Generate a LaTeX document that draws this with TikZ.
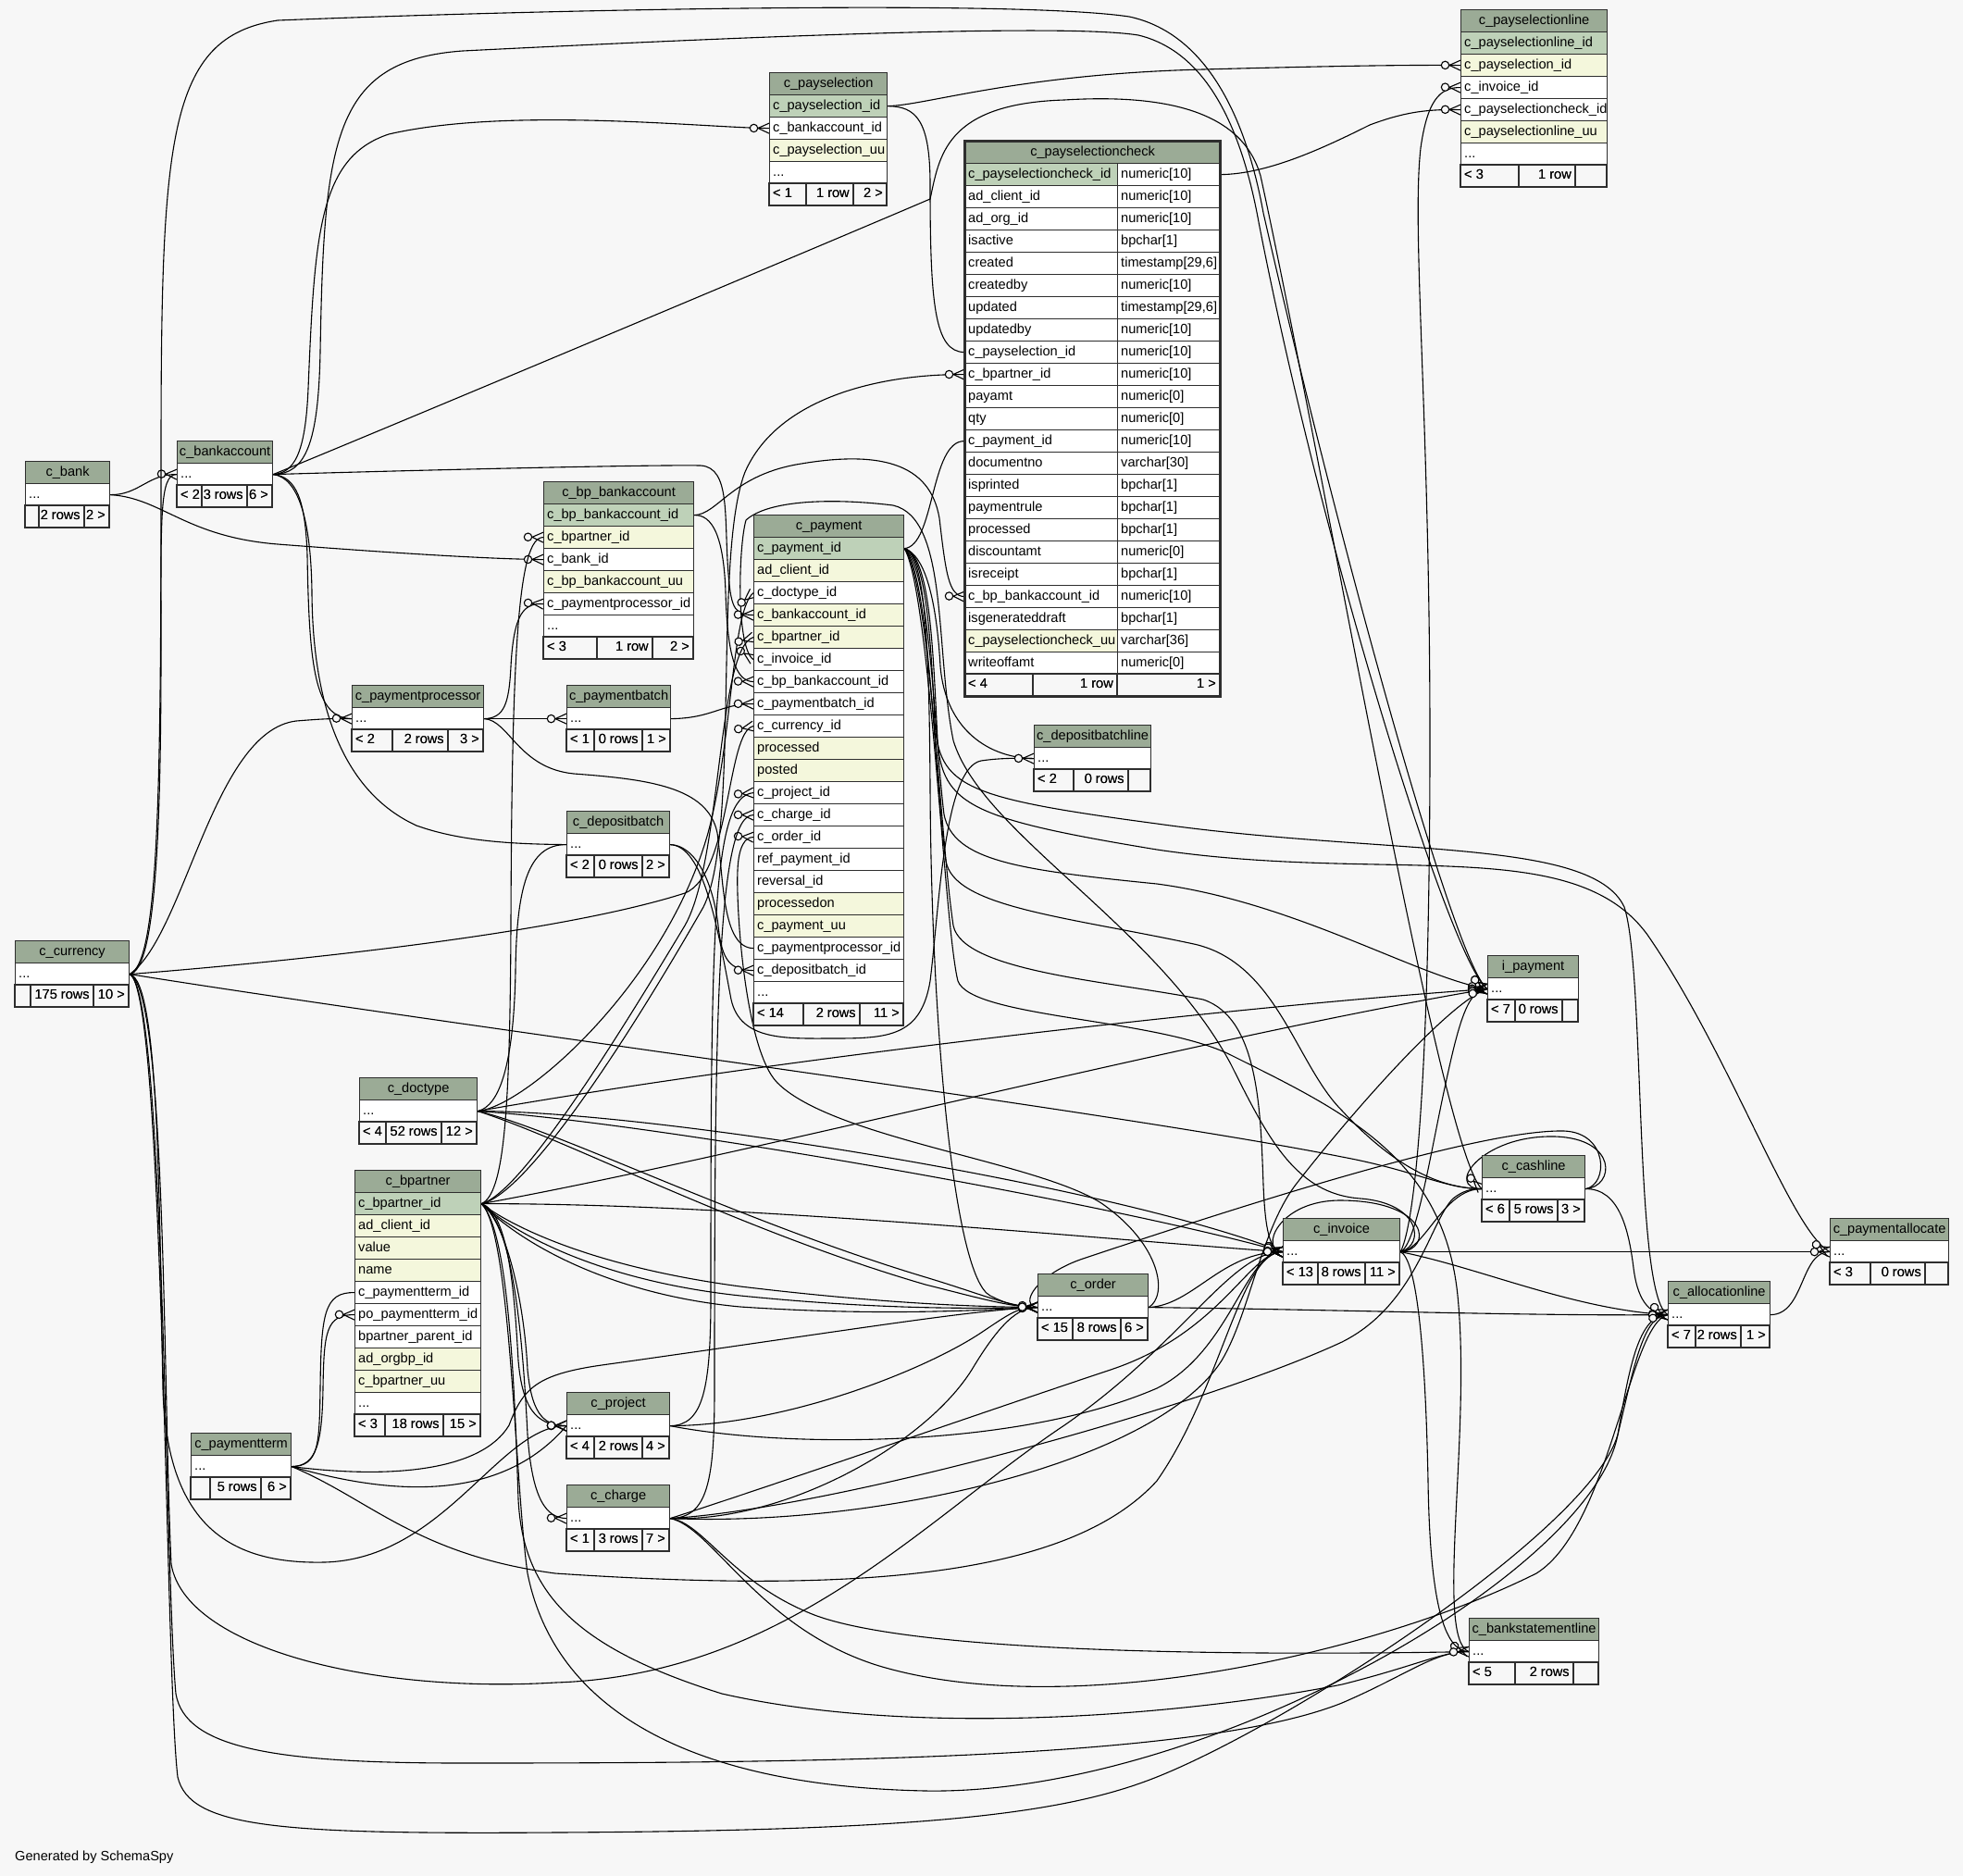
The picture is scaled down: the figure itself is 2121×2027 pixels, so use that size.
\documentclass[tikz,border=0pt]{standalone}
\usepackage{fontspec}
\setmainfont{Liberation Sans}
\usetikzlibrary{decorations.markings}
\definecolor{bg}{HTML}{F7F7F7}
\definecolor{hdr}{HTML}{9BAB96}
\definecolor{pk}{HTML}{BED1B8}
\definecolor{idx}{HTML}{F4F7DC}
\definecolor{bd}{HTML}{2E2E2E}
\tikzset{
  every node/.style={font=\fontsize{14.6pt}{17pt}\selectfont},
  cell/.style={draw=bd, line width=1.2pt, inner sep=0pt, minimum height=24pt, anchor=north west},
  txt/.style={inner sep=0pt, text height=10.5pt, text depth=3pt},
  fk/.style={draw=black, line width=1.1pt, postaction={decorate,decoration={markings,mark=at position 1 with {\draw[line width=1.1pt] (-12,0) -- (0,5.5) (-12,0) -- (0,-5.5); \draw[line width=1.1pt,fill=bg] (-16.5,0) circle (4.2);}}}},
}
\newcommand\thd[5]{\node[cell,fill=hdr,minimum width=#4] (#1) at (#2,#3) {}; \node[txt] at (#1.center) {#5};}
\newcommand\trw[6]{\node[cell,fill=#5,minimum width=#4] (#1) at (#2,#3) {}; \node[txt,anchor=west] at ([xshift=4pt]#1.west) {#6};}
\newcommand\tft[8]{\draw[draw=bd,line width=1.2pt] (#1,#5) rectangle (#2,#5+24) (#2,#5) rectangle (#3,#5+24) (#3,#5) rectangle (#4,#5+24); \node[txt,anchor=west] at (#1+4,#5+12) {#6}; \node[txt,anchor=east] at (#3-4,#5+12) {#7}; \node[txt,anchor=east] at (#4-4,#5+12) {#8};}
\newcommand\prw[5]{\node[cell,fill=#3,minimum width=165] (#1) at (1042,#2) {}; \node[txt,anchor=west] at ([xshift=4pt]#1.west) {#4}; \node[cell,fill=white,minimum width=111] (#1t) at (1207,#2) {}; \node[txt,anchor=west] at ([xshift=4pt]#1t.west) {#5};}
\begin{document}
\begin{tikzpicture}[x=1pt,y=-1pt]
\fill[bg] (0,0) rectangle (2121,2027);
\useasboundingbox (0,0) rectangle (2121,2027);
% ---------- invisible port placeholders (tables drawn later overwrite) ----------
% ---------- tables (nodes first, so edges can reference; drawn again on top) ----------
\begin{scope}
% c_payselectionline
\thd{psl-h}{1578}{10}{158}{c\_payselectionline}
\trw{psl-pk}{1578}{34}{158}{pk}{c\_payselectionline\_id}
\trw{psl-ps}{1578}{58}{158}{idx}{c\_payselection\_id}
\trw{psl-inv}{1578}{82}{158}{white}{c\_invoice\_id}
\trw{psl-psc}{1578}{106}{158}{white}{c\_payselectioncheck\_id}
\trw{psl-uu}{1578}{130}{158}{idx}{c\_payselectionline\_uu}
\trw{psl-m}{1578}{154}{158}{white}{...}
\tft{1578}{1641}{1702}{1736}{178}{< 3}{1 row}{}
% c_payselection
\thd{ps-h}{831}{78}{127}{c\_payselection}
\trw{ps-pk}{831}{102}{127}{pk}{c\_payselection\_id}
\trw{ps-bacct}{831}{126}{127}{white}{c\_bankaccount\_id}
\trw{ps-uu}{831}{150}{127}{idx}{c\_payselection\_uu}
\trw{ps-m}{831}{174}{127}{white}{...}
\tft{831}{871}{922}{958}{198}{< 1}{1 row}{2 >}
% c_payselectioncheck
\thd{psc-h}{1042}{152}{276}{c\_payselectioncheck}
\prw{psc-pk}{176}{pk}{c\_payselectioncheck\_id}{numeric[10]}
\prw{psc-r1}{200}{white}{ad\_client\_id}{numeric[10]}
\prw{psc-r2}{224}{white}{ad\_org\_id}{numeric[10]}
\prw{psc-r3}{248}{white}{isactive}{bpchar[1]}
\prw{psc-r4}{272}{white}{created}{timestamp[29,6]}
\prw{psc-r5}{296}{white}{createdby}{numeric[10]}
\prw{psc-r6}{320}{white}{updated}{timestamp[29,6]}
\prw{psc-r7}{344}{white}{updatedby}{numeric[10]}
\prw{psc-ps}{368}{white}{c\_payselection\_id}{numeric[10]}
\prw{psc-bp}{392}{white}{c\_bpartner\_id}{numeric[10]}
\prw{psc-r10}{416}{white}{payamt}{numeric[0]}
\prw{psc-r11}{440}{white}{qty}{numeric[0]}
\prw{psc-pay}{464}{white}{c\_payment\_id}{numeric[10]}
\prw{psc-r13}{488}{white}{documentno}{varchar[30]}
\prw{psc-r14}{512}{white}{isprinted}{bpchar[1]}
\prw{psc-r15}{536}{white}{paymentrule}{bpchar[1]}
\prw{psc-r16}{560}{white}{processed}{bpchar[1]}
\prw{psc-r17}{584}{white}{discountamt}{numeric[0]}
\prw{psc-r18}{608}{white}{isreceipt}{bpchar[1]}
\prw{psc-bpba}{632}{white}{c\_bp\_bankaccount\_id}{numeric[10]}
\prw{psc-r20}{656}{white}{isgenerateddraft}{bpchar[1]}
\prw{psc-uu}{680}{idx}{c\_payselectioncheck\_uu}{varchar[36]}
\prw{psc-r22}{704}{white}{writeoffamt}{numeric[0]}
\tft{1042}{1116}{1207}{1318}{728}{< 4}{1 row}{1 >}
\draw[draw=bd,line width=3pt] (1042,152) rectangle (1318,752);
% c_payment
\thd{pay-h}{814}{556}{162}{c\_payment}
\trw{pay-pk}{814}{580}{162}{pk}{c\_payment\_id}
\trw{pay-r1}{814}{604}{162}{idx}{ad\_client\_id}
\trw{pay-doc}{814}{628}{162}{white}{c\_doctype\_id}
\trw{pay-bacct}{814}{652}{162}{idx}{c\_bankaccount\_id}
\trw{pay-bp}{814}{676}{162}{idx}{c\_bpartner\_id}
\trw{pay-inv}{814}{700}{162}{white}{c\_invoice\_id}
\trw{pay-bpba}{814}{724}{162}{white}{c\_bp\_bankaccount\_id}
\trw{pay-pb}{814}{748}{162}{white}{c\_paymentbatch\_id}
\trw{pay-cur}{814}{772}{162}{white}{c\_currency\_id}
\trw{pay-r9}{814}{796}{162}{idx}{processed}
\trw{pay-r10}{814}{820}{162}{idx}{posted}
\trw{pay-proj}{814}{844}{162}{white}{c\_project\_id}
\trw{pay-charge}{814}{868}{162}{white}{c\_charge\_id}
\trw{pay-order}{814}{892}{162}{white}{c\_order\_id}
\trw{pay-r14}{814}{916}{162}{white}{ref\_payment\_id}
\trw{pay-r15}{814}{940}{162}{white}{reversal\_id}
\trw{pay-r16}{814}{964}{162}{idx}{processedon}
\trw{pay-r17}{814}{988}{162}{idx}{c\_payment\_uu}
\trw{pay-pp}{814}{1012}{162}{white}{c\_paymentprocessor\_id}
\trw{pay-db}{814}{1036}{162}{white}{c\_depositbatch\_id}
\trw{pay-m}{814}{1060}{162}{white}{...}
\tft{814}{868}{929}{976}{1084}{< 14}{2 rows}{11 >}
% c_bp_bankaccount
\thd{bpba-h}{587}{520}{162}{c\_bp\_bankaccount}
\trw{bpba-pk}{587}{544}{162}{pk}{c\_bp\_bankaccount\_id}
\trw{bpba-bp}{587}{568}{162}{idx}{c\_bpartner\_id}
\trw{bpba-bank}{587}{592}{162}{white}{c\_bank\_id}
\trw{bpba-uu}{587}{616}{162}{idx}{c\_bp\_bankaccount\_uu}
\trw{bpba-pp}{587}{640}{162}{white}{c\_paymentprocessor\_id}
\trw{bpba-m}{587}{664}{162}{white}{...}
\tft{587}{645}{705}{749}{688}{< 3}{1 row}{2 >}
% c_bank
\thd{bank-h}{27}{498}{91}{c\_bank}
\trw{bank-r}{27}{522}{91}{white}{...}
\tft{27}{42}{91}{118}{546}{}{2 rows}{2 >}
% c_bankaccount
\thd{bacct-h}{191}{476}{103}{c\_bankaccount}
\trw{bacct-r}{191}{500}{103}{white}{...}
\tft{191}{218}{267}{294}{524}{< 2}{3 rows}{6 >}
% c_currency
\thd{cur-h}{16}{1016}{123}{c\_currency}
\trw{cur-r}{16}{1040}{123}{white}{...}
\tft{16}{33}{101}{139}{1064}{}{175 rows}{10 >}
% c_paymentprocessor
\thd{pproc-h}{380}{740}{142}{c\_paymentprocessor}
\trw{pproc-r}{380}{764}{142}{white}{...}
\tft{380}{424}{484}{522}{788}{< 2}{2 rows}{3 >}
% c_paymentbatch
\thd{pbatch-h}{612}{740}{112}{c\_paymentbatch}
\trw{pbatch-r}{612}{764}{112}{white}{...}
\tft{612}{642}{694}{724}{788}{< 1}{0 rows}{1 >}
% c_depositbatch
\thd{dbatch-h}{612}{876}{111}{c\_depositbatch}
\trw{dbatch-r}{612}{900}{111}{white}{...}
\tft{612}{642}{694}{723}{924}{< 2}{0 rows}{2 >}
% c_depositbatchline
\thd{dbl-h}{1117}{783}{126}{c\_depositbatchline}
\trw{dbl-r}{1117}{807}{126}{white}{...}
\tft{1117}{1160}{1219}{1243}{831}{< 2}{0 rows}{}
% c_doctype
\thd{doctype-h}{388}{1164}{127}{c\_doctype}
\trw{doctype-r}{388}{1188}{127}{white}{...}
\tft{388}{417}{477}{515}{1212}{< 4}{52 rows}{12 >}
% c_bpartner
\thd{bp-h}{383}{1264}{136}{c\_bpartner}
\trw{bp-pk}{383}{1288}{136}{pk}{c\_bpartner\_id}
\trw{bp-r1}{383}{1312}{136}{idx}{ad\_client\_id}
\trw{bp-r2}{383}{1336}{136}{idx}{value}
\trw{bp-r3}{383}{1360}{136}{idx}{name}
\trw{bp-pt}{383}{1384}{136}{white}{c\_paymentterm\_id}
\trw{bp-popt}{383}{1408}{136}{white}{po\_paymentterm\_id}
\trw{bp-r6}{383}{1432}{136}{white}{bpartner\_parent\_id}
\trw{bp-r7}{383}{1456}{136}{idx}{ad\_orgbp\_id}
\trw{bp-r8}{383}{1480}{136}{idx}{c\_bpartner\_uu}
\trw{bp-m}{383}{1504}{136}{white}{...}
\tft{383}{416}{479}{519}{1528}{< 3}{18 rows}{15 >}
% c_paymentterm
\thd{pterm-h}{206}{1548}{108}{c\_paymentterm}
\trw{pterm-r}{206}{1572}{108}{white}{...}
\tft{206}{227}{282}{314}{1596}{}{5 rows}{6 >}
% c_project
\thd{proj-h}{612}{1504}{111}{c\_project}
\trw{proj-r}{612}{1528}{111}{white}{...}
\tft{612}{642}{694}{723}{1552}{< 4}{2 rows}{4 >}
% c_charge
\thd{charge-h}{612}{1604}{111}{c\_charge}
\trw{charge-r}{612}{1628}{111}{white}{...}
\tft{612}{642}{694}{723}{1652}{< 1}{3 rows}{7 >}
% c_order
\thd{order-h}{1121}{1376}{119}{c\_order}
\trw{order-r}{1121}{1400}{119}{white}{...}
\tft{1121}{1159}{1211}{1240}{1424}{< 15}{8 rows}{6 >}
% c_invoice
\thd{inv-h}{1386}{1316}{126}{c\_invoice}
\trw{inv-r}{1386}{1340}{126}{white}{...}
\tft{1386}{1424}{1475}{1512}{1364}{< 13}{8 rows}{11 >}
% i_payment
\thd{ipay-h}{1607}{1032}{98}{i\_payment}
\trw{ipay-r}{1607}{1056}{98}{white}{...}
\tft{1607}{1637}{1688}{1705}{1080}{< 7}{0 rows}{}
% c_cashline
\thd{cash-h}{1601}{1248}{111}{c\_cashline}
\trw{cash-r}{1601}{1272}{111}{white}{...}
\tft{1601}{1631}{1683}{1712}{1296}{< 6}{5 rows}{3 >}
% c_allocationline
\thd{alloc-h}{1802}{1384}{110}{c\_allocationline}
\trw{alloc-r}{1802}{1408}{110}{white}{...}
\tft{1802}{1832}{1881}{1912}{1432}{< 7}{2 rows}{1 >}
% c_paymentallocate
\thd{palloc-h}{1977}{1316}{128}{c\_paymentallocate}
\trw{palloc-r}{1977}{1340}{128}{white}{...}
\tft{1977}{2021}{2080}{2105}{1364}{< 3}{0 rows}{}
% c_bankstatementline
\thd{bsl-h}{1587}{1748}{140}{c\_bankstatementline}
\trw{bsl-r}{1587}{1772}{140}{white}{...}
\tft{1587}{1637}{1700}{1727}{1796}{< 5}{2 rows}{}
\end{scope}
% ================= connectors =================
% c_bank
\draw[fk] (bank-r.east) .. controls (150,535) and (160,512) .. (bacct-r.west);
\draw[fk] (bank-r.east) .. controls (175,538) and (200,580) .. (300,588) .. controls (430,598) and (530,604) .. (bpba-bank.west);
% c_currency
\draw[fk] (cur-r.east) .. controls (168,1048) and (174,900) .. (174,700) .. controls (174,560) and (172,512) .. (bacct-r.west);
\draw[fk] (cur-r.east) .. controls (172,1040) and (174,850) .. (174,500) .. controls (174,150) and (180,40) .. (300,22) .. controls (600,10) and (1100,0) .. (1220,18) .. controls (1300,35) and (1345,120) .. (1365,230) .. controls (1440,560) and (1570,1040) .. (ipay-r.west);
\draw[fk] (cur-r.east) .. controls (200,1010) and (230,790) .. (320,779) .. controls (345,777) and (360,776) .. (pproc-r.west);
\draw[fk] (cur-r.east) .. controls (300,1040) and (600,1010) .. (740,965) .. controls (790,945) and (785,790) .. (pay-cur.west);
\draw[fk] (cur-r.east) .. controls (500,1110) and (1200,1200) .. (1450,1250) .. controls (1530,1265) and (1560,1284) .. (cash-r.west);
\draw[fk] (cur-r.east) .. controls (172,1060) and (172,1300) .. (176,1500) .. controls (180,1650) and (250,1690) .. (350,1688) .. controls (480,1685) and (540,1540) .. (proj-r.west);
\draw[fk] (cur-r.east) .. controls (180,1070) and (176,1500) .. (185,1690) .. controls (200,1780) and (400,1830) .. (600,1818) .. controls (850,1810) and (1000,1640) .. (1150,1540) .. controls (1280,1450) and (1330,1352) .. (inv-r.west);
\draw[fk] (cur-r.east) .. controls (178,1070) and (178,1700) .. (190,1830) .. controls (200,1890) and (300,1905) .. (500,1905) .. controls (900,1905) and (1300,1900) .. (1450,1840) .. controls (1520,1810) and (1550,1784) .. (bsl-r.west);
\draw[fk] (cur-r.east) .. controls (178,1070) and (178,1800) .. (192,1920) .. controls (205,1975) and (300,1982) .. (600,1980) .. controls (1000,1978) and (1150,1960) .. (1250,1920) .. controls (1400,1860) and (1720,1650) .. (1748,1550) .. controls (1765,1480) and (1775,1420) .. (alloc-r.west);
% c_bankaccount
\draw[fk] (bacct-r.east) .. controls (318,511) and (330,490) .. (333,420) .. controls (340,250) and (345,170) .. (420,145) .. controls (550,115) and (760,138) .. (ps-bacct.west);
\draw[fk] (bacct-r.east) .. controls (330,512) and (344,480) .. (346,380) .. controls (350,150) and (360,65) .. (500,55) .. controls (800,40) and (1150,25) .. (1230,38) .. controls (1300,55) and (1340,130) .. (1360,240) .. controls (1430,600) and (1568,1040) .. (ipay-r.west);
\draw[fk] (bacct-r.east) .. controls (400,470) and (900,260) .. (1005,215) .. controls (1015,170) and (1020,112) .. (1150,108) .. controls (1280,100) and (1345,130) .. (1362,190) .. controls (1430,500) and (1555,1240) .. (cash-r.west);
\draw[fk] (bacct-r.east) .. controls (450,508) and (700,502) .. (757,503) .. controls (790,505) and (782,560) .. (787,620) .. controls (790,660) and (795,664) .. (pay-bacct.west);
\draw[fk] (bacct-r.east) .. controls (320,515) and (330,540) .. (332,600) .. controls (334,720) and (340,776) .. (pproc-r.west);
\draw[fk] (bacct-r.east) .. controls (322,516) and (336,560) .. (337,640) .. controls (338,780) and (380,860) .. (450,892) .. controls (500,910) and (560,912) .. (dbatch-r.west);
% c_paymentprocessor
\draw[fk] (pproc-r.east) .. controls (545,776) and (550,760) .. (552,720) .. controls (555,665) and (565,651) .. (bpba-pp.west);
\draw[fk] (pproc-r.east) -- (pbatch-r.west);
\draw[fk] (pproc-r.east) .. controls (550,778) and (560,830) .. (620,836) .. controls (700,842) and (765,850) .. (775,900) .. controls (782,950) and (780,1024) .. (pay-pp.west);
\draw[fk] (pbatch-r.east) .. controls (770,776) and (780,760) .. (pay-pb.west);
% c_depositbatch
\draw[fk] (dbatch-r.east) .. controls (750,913) and (770,950) .. (776,1000) .. controls (780,1040) and (790,1048) .. (pay-db.west);
\draw[fk] (dbatch-r.east) .. controls (760,914) and (775,1000) .. (790,1080) .. controls (800,1125) and (850,1122) .. (900,1122) .. controls (960,1122) and (995,1120) .. (1005,1060) .. controls (1015,980) and (1020,830) .. (1060,822) .. controls (1080,819) and (1100,819) .. (dbl-r.west);
% c_bp_bankaccount
\draw[fk] (bpba-pk.east) .. controls (775,556) and (790,515) .. (860,502) .. controls (950,486) and (1005,500) .. (1015,560) .. controls (1022,620) and (1025,644) .. (psc-bpba.west);
\draw[fk] (bpba-pk.east) .. controls (770,556) and (782,580) .. (784,640) .. controls (786,710) and (795,736) .. (pay-bpba.west);
% c_payselection
\draw[fk] (ps-pk.east) .. controls (1000,114) and (1100,80) .. (1300,75) .. controls (1450,71) and (1530,70) .. (psl-ps.west);
\draw[fk] (ps-pk.east) .. controls (990,115) and (1005,130) .. (1005,200) .. controls (1005,330) and (1010,380) .. (psc-ps.west);
% c_payselectioncheck
\draw[fk] (psc-pkt.east) .. controls (1370,188) and (1430,160) .. (1480,135) .. controls (1520,120) and (1545,118) .. (psl-psc.west);
% c_payment
\draw[fk] (pay-pk.east) .. controls (1010,590) and (1005,476) .. (psc-pay.west);
\draw[fk] (pay-pk.east) .. controls (1000,600) and (1012,650) .. (1016,720) .. controls (1022,790) and (1070,819) .. (dbl-r.west);
\draw[fk] (pay-pk.east) .. controls (1005,600) and (1008,700) .. (1013,800) .. controls (1018,870) and (1050,885) .. (1250,918) .. controls (1500,955) and (1700,900) .. (1780,1010) .. controls (1870,1140) and (1935,1330) .. (palloc-r.west);
\draw[fk] (pay-pk.east) .. controls (1002,600) and (1006,700) .. (1010,780) .. controls (1015,850) and (1040,862) .. (1250,890) .. controls (1500,925) and (1720,905) .. (1755,980) .. controls (1778,1050) and (1765,1400) .. (alloc-r.west);
\draw[fk] (pay-pk.east) .. controls (1005,610) and (1010,800) .. (1020,880) .. controls (1030,930) and (1100,940) .. (1250,955) .. controls (1400,975) and (1530,1055) .. (ipay-r.west);
\draw[fk] (pay-pk.east) .. controls (1005,620) and (1010,850) .. (1022,930) .. controls (1030,980) and (1150,990) .. (1290,1020) .. controls (1380,1040) and (1400,1150) .. (1450,1200) .. controls (1510,1265) and (1560,1284) .. (cash-r.west);
\draw[fk] (pay-pk.east) .. controls (1005,630) and (1015,900) .. (1030,1000) .. controls (1040,1050) and (1200,1060) .. (1300,1080) .. controls (1360,1100) and (1362,1200) .. (1365,1280) .. controls (1367,1330) and (1372,1352) .. (inv-r.west);
\draw[fk] (pay-pk.east) .. controls (1005,640) and (1020,1000) .. (1035,1060) .. controls (1050,1100) and (1250,1100) .. (1330,1140) .. controls (1450,1200) and (1560,1250) .. (1575,1400) .. controls (1590,1550) and (1550,1770) .. (bsl-r.west);
\draw[fk] (pay-pk.east) .. controls (1000,600) and (1004,700) .. (1005,850) .. controls (1006,1100) and (1030,1380) .. (1070,1400) .. controls (1090,1410) and (1100,1412) .. (order-r.west);
% c_invoice
\draw[fk] (inv-r.east) .. controls (1530,1320) and (1545,1150) .. (1545,800) .. controls (1545,450) and (1525,250) .. (1535,160) .. controls (1542,110) and (1555,94) .. (psl-inv.west);
\draw[fk] (inv-r.east) .. controls (1540,1345) and (1535,1300) .. (1470,1295) .. controls (1400,1290) and (1370,1230) .. (1330,1150) .. controls (1250,1000) and (1060,900) .. (1030,800) .. controls (1010,700) and (1025,560) .. (965,546) .. controls (900,538) and (830,540) .. (806,562) .. controls (798,590) and (795,700) .. (pay-inv.west);
\draw[fk] (inv-r.east) .. controls (1530,1345) and (1545,1250) .. (1560,1180) .. controls (1575,1110) and (1585,1068) .. (ipay-r.west);
\draw[fk] (inv-r.east) .. controls (1540,1350) and (1560,1284) .. (cash-r.west);
\draw[fk] (inv-r.east) -- (palloc-r.west);
\draw[fk] (inv-r.east) .. controls (1600,1370) and (1700,1415) .. (alloc-r.west);
\draw[fk] (inv-r.east) .. controls (1530,1360) and (1540,1450) .. (1543,1600) .. controls (1545,1730) and (1560,1784) .. (bsl-r.west);
\draw[fk] (inv-r.east) .. controls (1548,1350) and (1545,1298) .. (1450,1297) .. controls (1380,1296) and (1360,1352) .. (inv-r.west);
% c_cashline
\draw[fk] (cash-r.east) .. controls (1750,1284) and (1760,1330) .. (1765,1370) .. controls (1770,1410) and (1785,1420) .. (alloc-r.west);
\draw[fk] (cash-r.east) .. controls (1738,1280) and (1738,1224) .. (1690,1222) .. controls (1600,1220) and (1350,1300) .. (1170,1360) .. controls (1120,1377) and (1100,1410) .. (order-r.west);
\draw[fk] (cash-r.east) .. controls (1745,1282) and (1748,1230) .. (1680,1228) .. controls (1600,1226) and (1560,1284) .. (cash-r.west);
% c_order
\draw[fk] (order-r.east) .. controls (1290,1410) and (1320,1352) .. (inv-r.west);
\draw[fk] (order-r.east) .. controls (1450,1415) and (1650,1422) .. (alloc-r.west);
\draw[fk] (order-r.east) .. controls (1262,1400) and (1255,1345) .. (1190,1300) .. controls (1120,1255) and (900,1230) .. (840,1170) .. controls (805,1135) and (795,980) .. (797,940) .. controls (798,915) and (805,904) .. (pay-order.west);
% c_allocationline
\draw[fk] (alloc-r.east) .. controls (1950,1420) and (1945,1352) .. (palloc-r.west);
% c_doctype
\draw[fk] (doctype-r.east) .. controls (570,1195) and (720,1060) .. (765,900) .. controls (792,800) and (790,660) .. (pay-doc.west);
\draw[fk] (doctype-r.east) .. controls (540,1195) and (555,1150) .. (557,1050) .. controls (558,960) and (570,912) .. (dbatch-r.west);
\draw[fk] (doctype-r.east) .. controls (800,1150) and (1300,1090) .. (ipay-r.west);
\draw[fk] (doctype-r.east) .. controls (700,1200) and (1200,1280) .. (inv-r.west);
\draw[fk] (doctype-r.east) .. controls (700,1212) and (1200,1300) .. (inv-r.west);
\draw[fk] (doctype-r.east) .. controls (600,1220) and (800,1320) .. (1000,1380) .. controls (1060,1398) and (1090,1412) .. (order-r.west);
\draw[fk] (doctype-r.east) .. controls (610,1230) and (800,1330) .. (1000,1388) .. controls (1060,1403) and (1090,1412) .. (order-r.west);
% c_bpartner
\draw[fk] (bp-pk.east) .. controls (545,1290) and (551,1200) .. (552,1000) .. controls (553,700) and (560,580) .. (bpba-bp.west);
\draw[fk] (bp-pk.east) .. controls (560,1290) and (650,1150) .. (740,1000) .. controls (780,930) and (775,700) .. (pay-bp.west);
\draw[fk] (bp-pk.east) .. controls (570,1290) and (680,1120) .. (760,980) .. controls (800,900) and (770,600) .. (805,510) .. controls (840,430) and (950,404) .. (psc-bp.west);
\draw[fk] (bp-pk.east) .. controls (550,1310) and (556,1400) .. (560,1470) .. controls (565,1530) and (585,1540) .. (proj-r.west);
\draw[fk] (bp-pk.east) .. controls (545,1318) and (566,1400) .. (570,1480) .. controls (575,1532) and (590,1540) .. (proj-r.west);
\draw[fk] (bp-pk.east) .. controls (555,1320) and (565,1450) .. (570,1550) .. controls (575,1620) and (590,1640) .. (charge-r.west);
\draw[fk] (bp-pk.east) .. controls (800,1250) and (1300,1120) .. (ipay-r.west);
\draw[fk] (bp-pk.east) .. controls (800,1300) and (1200,1340) .. (inv-r.west);
\draw[fk] (bp-pk.east) .. controls (560,1330) and (650,1370) .. (800,1390) .. controls (950,1408) and (1050,1412) .. (order-r.west);
\draw[fk] (bp-pk.east) .. controls (565,1340) and (660,1385) .. (800,1400) .. controls (950,1415) and (1050,1414) .. (order-r.west);
\draw[fk] (bp-pk.east) .. controls (570,1350) and (670,1400) .. (800,1412) .. controls (950,1422) and (1050,1416) .. (order-r.west);
\draw[fk] (bp-pk.east) .. controls (550,1330) and (556,1500) .. (560,1620) .. controls (565,1720) and (620,1780) .. (780,1830) .. controls (1000,1880) and (1300,1850) .. (1450,1820) .. controls (1530,1800) and (1560,1784) .. (bsl-r.west);
\draw[fk] (bp-pk.east) .. controls (552,1330) and (556,1600) .. (570,1700) .. controls (600,1850) and (750,1930) .. (1000,1935) .. controls (1300,1940) and (1720,1700) .. (1748,1550) .. controls (1760,1480) and (1770,1420) .. (alloc-r.west);
% c_paymentterm
\draw[fk] (pterm-r.east) .. controls (345,1584) and (345,1560) .. (346,1500) .. controls (347,1420) and (350,1396) .. (bp-pt.west);
\draw[fk] (pterm-r.east) .. controls (342,1584) and (348,1560) .. (349,1500) .. controls (350,1440) and (352,1420) .. (bp-popt.west);
\draw[fk] (pterm-r.east) .. controls (420,1598) and (520,1590) .. (550,1540) .. controls (565,1500) and (580,1485) .. (650,1475) .. controls (900,1440) and (1050,1415) .. (order-r.west);
\draw[fk] (pterm-r.east) .. controls (420,1615) and (540,1625) .. (proj-r.west);
\draw[fk] (pterm-r.east) .. controls (400,1620) and (450,1680) .. (600,1700) .. controls (900,1720) and (1150,1710) .. (1250,1600) .. controls (1320,1500) and (1340,1352) .. (inv-r.west);
% c_project
\draw[fk] (proj-r.east) .. controls (760,1540) and (768,1500) .. (768,1400) .. controls (768,1000) and (770,860) .. (pay-proj.west);
\draw[fk] (proj-r.east) .. controls (850,1540) and (1000,1480) .. (1060,1440) .. controls (1090,1420) and (1100,1412) .. (order-r.west);
\draw[fk] (proj-r.east) .. controls (850,1565) and (1100,1565) .. (1250,1500) .. controls (1330,1460) and (1345,1352) .. (inv-r.west);
% c_charge
\draw[fk] (charge-r.east) .. controls (765,1640) and (772,1600) .. (772,1500) .. controls (772,1100) and (775,880) .. (pay-charge.west);
\draw[fk] (charge-r.east) .. controls (850,1645) and (1000,1560) .. (1050,1480) .. controls (1080,1430) and (1100,1412) .. (order-r.west);
\draw[fk] (charge-r.east) .. controls (850,1600) and (1050,1530) .. (1200,1480) .. controls (1320,1440) and (1350,1352) .. (inv-r.west);
\draw[fk] (charge-r.east) .. controls (900,1630) and (1300,1520) .. (1450,1450) .. controls (1530,1410) and (1545,1320) .. (1570,1295) .. controls (1580,1287) and (1590,1284) .. (cash-r.west);
\draw[fk] (charge-r.east) .. controls (950,1650) and (1250,1580) .. (1320,1470) .. controls (1350,1420) and (1362,1330) .. (1400,1280) .. controls (1470,1190) and (1570,1080) .. (ipay-r.west);
\draw[fk] (charge-r.east) .. controls (760,1645) and (790,1710) .. (880,1745) .. controls (1000,1790) and (1400,1788) .. (bsl-r.west);
\draw[fk] (charge-r.east) .. controls (770,1650) and (820,1760) .. (950,1800) .. controls (1150,1860) and (1480,1790) .. (1660,1700) .. controls (1740,1650) and (1760,1430) .. (alloc-r.west);
% ================= redraw tables on top =================
\begin{scope}
\thd{psl-h}{1578}{10}{158}{c\_payselectionline}
\trw{psl-pk}{1578}{34}{158}{pk}{c\_payselectionline\_id}
\trw{psl-ps}{1578}{58}{158}{idx}{c\_payselection\_id}
\trw{psl-inv}{1578}{82}{158}{white}{c\_invoice\_id}
\trw{psl-psc}{1578}{106}{158}{white}{c\_payselectioncheck\_id}
\trw{psl-uu}{1578}{130}{158}{idx}{c\_payselectionline\_uu}
\trw{psl-m}{1578}{154}{158}{white}{...}
\tft{1578}{1641}{1702}{1736}{178}{< 3}{1 row}{}
\thd{ps-h}{831}{78}{127}{c\_payselection}
\trw{ps-pk}{831}{102}{127}{pk}{c\_payselection\_id}
\trw{ps-bacct}{831}{126}{127}{white}{c\_bankaccount\_id}
\trw{ps-uu}{831}{150}{127}{idx}{c\_payselection\_uu}
\trw{ps-m}{831}{174}{127}{white}{...}
\tft{831}{871}{922}{958}{198}{< 1}{1 row}{2 >}
\thd{psc-h}{1042}{152}{276}{c\_payselectioncheck}
\prw{psc-pk}{176}{pk}{c\_payselectioncheck\_id}{numeric[10]}
\prw{psc-r1}{200}{white}{ad\_client\_id}{numeric[10]}
\prw{psc-r2}{224}{white}{ad\_org\_id}{numeric[10]}
\prw{psc-r3}{248}{white}{isactive}{bpchar[1]}
\prw{psc-r4}{272}{white}{created}{timestamp[29,6]}
\prw{psc-r5}{296}{white}{createdby}{numeric[10]}
\prw{psc-r6}{320}{white}{updated}{timestamp[29,6]}
\prw{psc-r7}{344}{white}{updatedby}{numeric[10]}
\prw{psc-ps}{368}{white}{c\_payselection\_id}{numeric[10]}
\prw{psc-bp}{392}{white}{c\_bpartner\_id}{numeric[10]}
\prw{psc-r10}{416}{white}{payamt}{numeric[0]}
\prw{psc-r11}{440}{white}{qty}{numeric[0]}
\prw{psc-pay}{464}{white}{c\_payment\_id}{numeric[10]}
\prw{psc-r13}{488}{white}{documentno}{varchar[30]}
\prw{psc-r14}{512}{white}{isprinted}{bpchar[1]}
\prw{psc-r15}{536}{white}{paymentrule}{bpchar[1]}
\prw{psc-r16}{560}{white}{processed}{bpchar[1]}
\prw{psc-r17}{584}{white}{discountamt}{numeric[0]}
\prw{psc-r18}{608}{white}{isreceipt}{bpchar[1]}
\prw{psc-bpba}{632}{white}{c\_bp\_bankaccount\_id}{numeric[10]}
\prw{psc-r20}{656}{white}{isgenerateddraft}{bpchar[1]}
\prw{psc-uu}{680}{idx}{c\_payselectioncheck\_uu}{varchar[36]}
\prw{psc-r22}{704}{white}{writeoffamt}{numeric[0]}
\tft{1042}{1116}{1207}{1318}{728}{< 4}{1 row}{1 >}
\draw[draw=bd,line width=3pt] (1042,152) rectangle (1318,752);
\thd{pay-h}{814}{556}{162}{c\_payment}
\trw{pay-pk}{814}{580}{162}{pk}{c\_payment\_id}
\trw{pay-r1}{814}{604}{162}{idx}{ad\_client\_id}
\trw{pay-doc}{814}{628}{162}{white}{c\_doctype\_id}
\trw{pay-bacct}{814}{652}{162}{idx}{c\_bankaccount\_id}
\trw{pay-bp}{814}{676}{162}{idx}{c\_bpartner\_id}
\trw{pay-inv}{814}{700}{162}{white}{c\_invoice\_id}
\trw{pay-bpba}{814}{724}{162}{white}{c\_bp\_bankaccount\_id}
\trw{pay-pb}{814}{748}{162}{white}{c\_paymentbatch\_id}
\trw{pay-cur}{814}{772}{162}{white}{c\_currency\_id}
\trw{pay-r9}{814}{796}{162}{idx}{processed}
\trw{pay-r10}{814}{820}{162}{idx}{posted}
\trw{pay-proj}{814}{844}{162}{white}{c\_project\_id}
\trw{pay-charge}{814}{868}{162}{white}{c\_charge\_id}
\trw{pay-order}{814}{892}{162}{white}{c\_order\_id}
\trw{pay-r14}{814}{916}{162}{white}{ref\_payment\_id}
\trw{pay-r15}{814}{940}{162}{white}{reversal\_id}
\trw{pay-r16}{814}{964}{162}{idx}{processedon}
\trw{pay-r17}{814}{988}{162}{idx}{c\_payment\_uu}
\trw{pay-pp}{814}{1012}{162}{white}{c\_paymentprocessor\_id}
\trw{pay-db}{814}{1036}{162}{white}{c\_depositbatch\_id}
\trw{pay-m}{814}{1060}{162}{white}{...}
\tft{814}{868}{929}{976}{1084}{< 14}{2 rows}{11 >}
\thd{bpba-h}{587}{520}{162}{c\_bp\_bankaccount}
\trw{bpba-pk}{587}{544}{162}{pk}{c\_bp\_bankaccount\_id}
\trw{bpba-bp}{587}{568}{162}{idx}{c\_bpartner\_id}
\trw{bpba-bank}{587}{592}{162}{white}{c\_bank\_id}
\trw{bpba-uu}{587}{616}{162}{idx}{c\_bp\_bankaccount\_uu}
\trw{bpba-pp}{587}{640}{162}{white}{c\_paymentprocessor\_id}
\trw{bpba-m}{587}{664}{162}{white}{...}
\tft{587}{645}{705}{749}{688}{< 3}{1 row}{2 >}
\thd{bank-h}{27}{498}{91}{c\_bank}
\trw{bank-r}{27}{522}{91}{white}{...}
\tft{27}{42}{91}{118}{546}{}{2 rows}{2 >}
\thd{bacct-h}{191}{476}{103}{c\_bankaccount}
\trw{bacct-r}{191}{500}{103}{white}{...}
\tft{191}{218}{267}{294}{524}{< 2}{3 rows}{6 >}
\thd{cur-h}{16}{1016}{123}{c\_currency}
\trw{cur-r}{16}{1040}{123}{white}{...}
\tft{16}{33}{101}{139}{1064}{}{175 rows}{10 >}
\thd{pproc-h}{380}{740}{142}{c\_paymentprocessor}
\trw{pproc-r}{380}{764}{142}{white}{...}
\tft{380}{424}{484}{522}{788}{< 2}{2 rows}{3 >}
\thd{pbatch-h}{612}{740}{112}{c\_paymentbatch}
\trw{pbatch-r}{612}{764}{112}{white}{...}
\tft{612}{642}{694}{724}{788}{< 1}{0 rows}{1 >}
\thd{dbatch-h}{612}{876}{111}{c\_depositbatch}
\trw{dbatch-r}{612}{900}{111}{white}{...}
\tft{612}{642}{694}{723}{924}{< 2}{0 rows}{2 >}
\thd{dbl-h}{1117}{783}{126}{c\_depositbatchline}
\trw{dbl-r}{1117}{807}{126}{white}{...}
\tft{1117}{1160}{1219}{1243}{831}{< 2}{0 rows}{}
\thd{doctype-h}{388}{1164}{127}{c\_doctype}
\trw{doctype-r}{388}{1188}{127}{white}{...}
\tft{388}{417}{477}{515}{1212}{< 4}{52 rows}{12 >}
\thd{bp-h}{383}{1264}{136}{c\_bpartner}
\trw{bp-pk}{383}{1288}{136}{pk}{c\_bpartner\_id}
\trw{bp-r1}{383}{1312}{136}{idx}{ad\_client\_id}
\trw{bp-r2}{383}{1336}{136}{idx}{value}
\trw{bp-r3}{383}{1360}{136}{idx}{name}
\trw{bp-pt}{383}{1384}{136}{white}{c\_paymentterm\_id}
\trw{bp-popt}{383}{1408}{136}{white}{po\_paymentterm\_id}
\trw{bp-r6}{383}{1432}{136}{white}{bpartner\_parent\_id}
\trw{bp-r7}{383}{1456}{136}{idx}{ad\_orgbp\_id}
\trw{bp-r8}{383}{1480}{136}{idx}{c\_bpartner\_uu}
\trw{bp-m}{383}{1504}{136}{white}{...}
\tft{383}{416}{479}{519}{1528}{< 3}{18 rows}{15 >}
\thd{pterm-h}{206}{1548}{108}{c\_paymentterm}
\trw{pterm-r}{206}{1572}{108}{white}{...}
\tft{206}{227}{282}{314}{1596}{}{5 rows}{6 >}
\thd{proj-h}{612}{1504}{111}{c\_project}
\trw{proj-r}{612}{1528}{111}{white}{...}
\tft{612}{642}{694}{723}{1552}{< 4}{2 rows}{4 >}
\thd{charge-h}{612}{1604}{111}{c\_charge}
\trw{charge-r}{612}{1628}{111}{white}{...}
\tft{612}{642}{694}{723}{1652}{< 1}{3 rows}{7 >}
\thd{order-h}{1121}{1376}{119}{c\_order}
\trw{order-r}{1121}{1400}{119}{white}{...}
\tft{1121}{1159}{1211}{1240}{1424}{< 15}{8 rows}{6 >}
\thd{inv-h}{1386}{1316}{126}{c\_invoice}
\trw{inv-r}{1386}{1340}{126}{white}{...}
\tft{1386}{1424}{1475}{1512}{1364}{< 13}{8 rows}{11 >}
\thd{ipay-h}{1607}{1032}{98}{i\_payment}
\trw{ipay-r}{1607}{1056}{98}{white}{...}
\tft{1607}{1637}{1688}{1705}{1080}{< 7}{0 rows}{}
\thd{cash-h}{1601}{1248}{111}{c\_cashline}
\trw{cash-r}{1601}{1272}{111}{white}{...}
\tft{1601}{1631}{1683}{1712}{1296}{< 6}{5 rows}{3 >}
\thd{alloc-h}{1802}{1384}{110}{c\_allocationline}
\trw{alloc-r}{1802}{1408}{110}{white}{...}
\tft{1802}{1832}{1881}{1912}{1432}{< 7}{2 rows}{1 >}
\thd{palloc-h}{1977}{1316}{128}{c\_paymentallocate}
\trw{palloc-r}{1977}{1340}{128}{white}{...}
\tft{1977}{2021}{2080}{2105}{1364}{< 3}{0 rows}{}
\thd{bsl-h}{1587}{1748}{140}{c\_bankstatementline}
\trw{bsl-r}{1587}{1772}{140}{white}{...}
\tft{1587}{1637}{1700}{1727}{1796}{< 5}{2 rows}{}
\end{scope}
\node[txt,anchor=west] (gen) at (16,2007) {Generated by SchemaSpy};
\end{tikzpicture}
\end{document}
